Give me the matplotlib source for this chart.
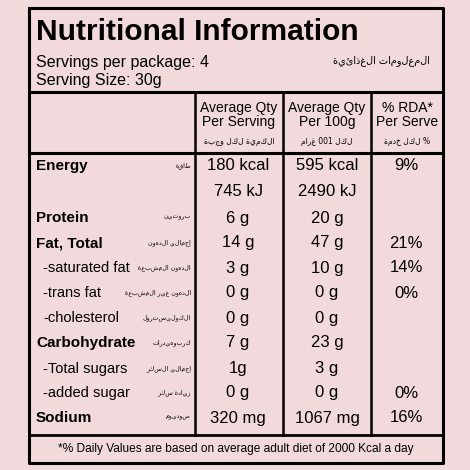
import matplotlib
matplotlib.use("Agg")
import matplotlib.pyplot as plt

plt.rcParams["font.family"] = ["Liberation Sans", "DejaVu Sans"]
BG = "#f1d9dc"

nutrients = ["Energy", "", "Protein", "Fat, Total", "-saturated fat", "-trans fat",
             "-cholesterol", "Carbohydrate", "-Total sugars", "-added sugar", "Sodium"]
bold_rows = {"Energy", "Protein", "Fat, Total", "Carbohydrate", "Sodium"}
arabic = ["طاقة", "", "بروتين", "إجمالي الدهون", "الدهون المشبعة", "الدهون غير المشبعة",
          "الكوليسترول", "كربوهيدرات", "إجمالي السكر", "زيادة سكر", "صوديوم"]
per_serving = ["180 kcal", "745 kJ", "6 g", "14 g", "3 g", "0 g", "0 g", "7 g", "1g", "0 g", "320 mg"]
per_100g = ["595 kcal", "2490 kJ", "20 g", "47 g", "10 g", "0 g", "0 g", "23 g", "3 g", "0 g", "1067 mg"]
rda = ["9%", "", "", "21%", "14%", "0%", "", "", "", "0%", "16%"]
row_y = [166, 191, 218, 243, 268, 293, 318, 343, 369, 393, 418]

headers = [("Average Qty\nPer Serving", "الكمية لكل وجبة"),
           ("Average Qty\nPer 100g", "لكل 100 غرام"),
           ("% RDA*\nPer Serve", "% لكل خدمة")]
col_x = [239, 327, 407]


def ar(s):
    # no shaping available: reverse so glyph order reads right-to-left
    return s[::-1]


fig = plt.figure(figsize=(4.7, 4.7), dpi=100, facecolor=BG)
ax = fig.add_axes([0, 0, 1, 1])
ax.set_xlim(0, 470)
ax.set_ylim(470, 0)
ax.axis("off")

L, R, T, B = 29, 443, 8, 463
ax.plot([L, R, R, L, L], [T, T, B, B, T], color="black", lw=2.2)
ax.plot([L, R], [92, 92], color="black", lw=2.2)
ax.plot([L, R], [153, 153], color="black", lw=2.2)
ax.plot([L, R], [435, 435], color="black", lw=2.0)
for x in (195, 283, 371):
    ax.plot([x, x], [92, 435], color="black", lw=1.8)

ax.text(36, 32, "Nutritional Information", fontsize=21.5, fontweight="bold",
        va="center", ha="left")
ax.text(36, 62, "Servings per package: 4", fontsize=11.5, va="center")
ax.text(36, 80, "Serving Size: 30g", fontsize=11.5, va="center")
ax.text(430, 61, ar("المعلومات الغذائية"), fontsize=7, va="center", ha="right",
        family="DejaVu Sans")

for (h, a), x in zip(headers, col_x):
    ax.text(x, 115, h, fontsize=10, ha="center", va="center", linespacing=1.05)
    ax.text(x, 141, ar(a), fontsize=5.5, ha="center", va="center", family="DejaVu Sans")

for i, y in enumerate(row_y):
    name = nutrients[i]
    if name:
        bold = name in bold_rows
        ax.text(36 if bold else 43, y, name, fontsize=11 if bold else 10.5, va="center",
                fontweight="bold" if bold else "normal")
    if arabic[i]:
        ax.text(191, y, ar(arabic[i]), fontsize=4.5, va="center", ha="right",
                family="DejaVu Sans")
    ax.text(238, y, per_serving[i], fontsize=12, va="center", ha="center")
    ax.text(327, y, per_100g[i], fontsize=12, va="center", ha="center")
    if rda[i]:
        ax.text(406, y, rda[i], fontsize=12, va="center", ha="center")

ax.text(236, 449, "*% Daily Values are based on average adult diet of 2000 Kcal a day",
        fontsize=8.6, va="center", ha="center")

fig.savefig("out.png", dpi=100, facecolor=BG)
